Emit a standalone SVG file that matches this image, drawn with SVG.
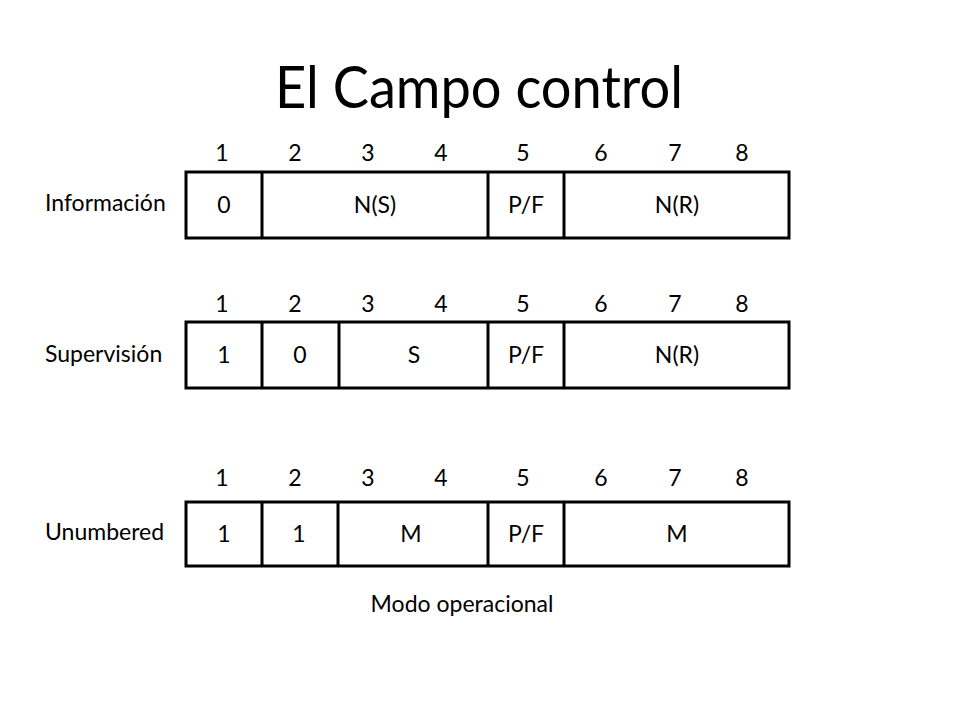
<svg xmlns="http://www.w3.org/2000/svg" width="960" height="720" viewBox="0 0 960 720">
<style>
text{font-family:Lato,"Open Sans","Liberation Sans",sans-serif;fill:#000}
.t{font-size:59px;text-anchor:middle}
.n{font-size:23px;text-anchor:middle}
.c{font-size:23px;text-anchor:middle}
.l{font-size:23px}
.b{fill:#fff;stroke:#000;stroke-width:3}
.d{stroke:#000;stroke-width:3}
</style>
<rect width="960" height="720" fill="#fff"/>
<text class="t" x="479" y="108" textLength="408" lengthAdjust="spacingAndGlyphs">El Campo control</text>
<g id="row-informacion">
<text class="l" x="45" y="211">Información</text>
<text class="n" x="222" y="161">1</text><text class="n" x="295" y="161">2</text><text class="n" x="368" y="161">3</text><text class="n" x="441" y="161">4</text><text class="n" x="523" y="161">5</text><text class="n" x="601" y="161">6</text><text class="n" x="675" y="161">7</text><text class="n" x="742" y="161">8</text>
<rect class="b" x="186" y="172" width="603" height="66"/>
<line class="d" x1="262" y1="172" x2="262" y2="238"/>
<line class="d" x1="488" y1="172" x2="488" y2="238"/>
<line class="d" x1="564" y1="172" x2="564" y2="238"/>
<text class="c" x="224" y="213">0</text>
<text class="c" x="375" y="213">N(S)</text>
<text class="c" x="526" y="213">P/F</text>
<text class="c" x="677" y="213">N(R)</text>
</g>
<g id="row-supervision">
<text class="l" x="45" y="362">Supervisión</text>
<text class="n" x="222" y="312">1</text><text class="n" x="295" y="312">2</text><text class="n" x="368" y="312">3</text><text class="n" x="441" y="312">4</text><text class="n" x="523" y="312">5</text><text class="n" x="601" y="312">6</text><text class="n" x="675" y="312">7</text><text class="n" x="742" y="312">8</text>
<rect class="b" x="186" y="322" width="603" height="66"/>
<line class="d" x1="262" y1="322" x2="262" y2="388"/>
<line class="d" x1="339" y1="322" x2="339" y2="388"/>
<line class="d" x1="488" y1="322" x2="488" y2="388"/>
<line class="d" x1="564" y1="322" x2="564" y2="388"/>
<text class="c" x="224" y="363">1</text>
<text class="c" x="300" y="363">0</text>
<text class="c" x="414" y="363">S</text>
<text class="c" x="526" y="363">P/F</text>
<text class="c" x="677" y="363">N(R)</text>
</g>
<g id="row-unumbered">
<text class="l" x="45" y="540">Unumbered</text>
<text class="n" x="222" y="486">1</text><text class="n" x="295" y="486">2</text><text class="n" x="368" y="486">3</text><text class="n" x="441" y="486">4</text><text class="n" x="523" y="486">5</text><text class="n" x="601" y="486">6</text><text class="n" x="675" y="486">7</text><text class="n" x="742" y="486">8</text>
<rect class="b" x="186" y="502" width="603" height="64"/>
<line class="d" x1="262" y1="502" x2="262" y2="566"/>
<line class="d" x1="338" y1="502" x2="338" y2="566"/>
<line class="d" x1="488" y1="502" x2="488" y2="566"/>
<line class="d" x1="564" y1="502" x2="564" y2="566"/>
<text class="c" x="224" y="542">1</text>
<text class="c" x="299" y="542">1</text>
<text class="c" x="411" y="542">M</text>
<text class="c" x="526" y="542">P/F</text>
<text class="c" x="677" y="542">M</text>
</g>
<text id="modo" class="c" x="462" y="612">Modo operacional</text>
</svg>
